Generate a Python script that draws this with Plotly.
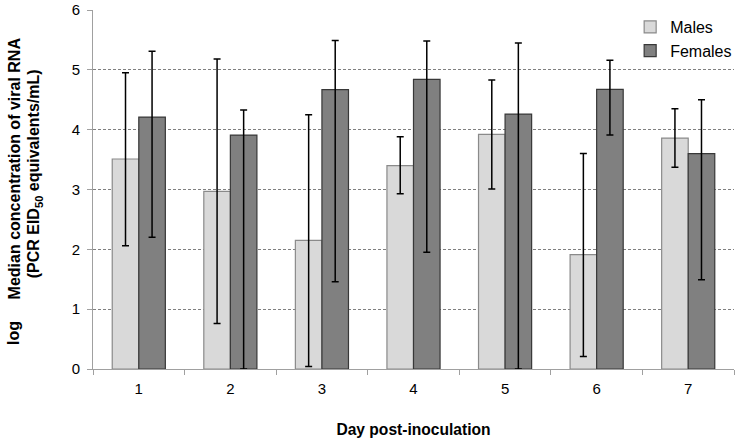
import plotly.graph_objects as go

days = ["1", "2", "3", "4", "5", "6", "7"]
males = [3.51, 2.97, 2.15, 3.40, 3.92, 1.91, 3.86]
males_hi = [4.95, 5.18, 4.25, 3.88, 4.83, 3.60, 4.35]
males_lo = [2.06, 0.76, 0.04, 2.93, 3.01, 0.21, 3.37]
females = [4.21, 3.91, 4.67, 4.84, 4.26, 4.675, 3.60]
females_hi = [5.31, 4.33, 5.49, 5.48, 5.45, 5.16, 4.50]
females_lo = [2.20, 0.0, 1.46, 1.95, 0.0, 3.91, 1.49]

FONT = "Liberation Sans, Arial, sans-serif"
L, T, R, B = 93, 9.5, 737, 369.5  # plot area in page pixels


def px_x(px):
    return (px - L) / (R - L)


def px_y(py):
    return (B - py) / (B - T)


def err(vals, hi, lo):
    return dict(type="data", symmetric=False,
                array=[h - v for h, v in zip(hi, vals)],
                arrayminus=[v - l for v, l in zip(vals, lo)],
                color="black", thickness=1.5, width=3.5)


fig = go.Figure()
fig.add_trace(go.Bar(x=days, y=males, name="Males",
                     marker=dict(color="#d9d9d9", line=dict(color="#8a8a8a", width=1.2)),
                     error_y=err(males, males_hi, males_lo)))
fig.add_trace(go.Bar(x=days, y=females, name="Females",
                     marker=dict(color="#808080", line=dict(color="#383838", width=1.2)),
                     error_y=err(females, females_hi, females_lo)))

fig.update_layout(
    width=742, height=442,
    margin=dict(l=L, r=742 - R, t=T, b=442 - B),
    paper_bgcolor="white", plot_bgcolor="white",
    barmode="group", bargap=0.42, bargroupgap=0,
    font=dict(family=FONT, size=15, color="black"),
    showlegend=True,
    legend=dict(x=0.838, y=1.0, xanchor="left", yanchor="top",
                bgcolor="rgba(0,0,0,0)", font=dict(size=16),
                itemwidth=30, tracegroupgap=0),
    xaxis=dict(
        type="category", tickson="boundaries", ticks="outside", ticklen=5,
        tickcolor="#a0a0a0", showline=True, linecolor="#a0a0a0", linewidth=1,
        showgrid=False, tickfont=dict(size=15), automargin=False,
        ticklabelstandoff=6,
        title=dict(text="<b>Day post-inoculation</b>", font=dict(size=15.6), standoff=28),
    ),
    yaxis=dict(
        range=[0, 6], dtick=1, ticks="outside", ticklen=5, tickcolor="#a0a0a0",
        showline=True, linecolor="#a0a0a0", linewidth=1, zeroline=False,
        showgrid=True, gridcolor="#808080", griddash="3px,2px", gridwidth=1,
        tickfont=dict(size=15), automargin=False, ticklabelstandoff=4,
    ),
    annotations=[
        dict(text="<b>log</b>", x=px_x(13), y=px_y(333),
             xref="paper", yref="paper", showarrow=False, textangle=-90,
             font=dict(size=16), xanchor="center", yanchor="middle"),
        dict(text="<b>Median concentration of viral RNA</b>", x=px_x(14), y=px_y(168),
             xref="paper", yref="paper", showarrow=False, textangle=-90,
             font=dict(size=16), xanchor="center", yanchor="middle"),
        dict(text="<b>(PCR EID<sub>50</sub> equivalents/mL)</b>", x=px_x(34), y=px_y(174),
             xref="paper", yref="paper", showarrow=False, textangle=-90,
             font=dict(size=16), xanchor="center", yanchor="middle"),
    ],
)

fig.write_html("out.html", config={"displayModeBar": False},
               post_script="document.body.style.margin='0';")
